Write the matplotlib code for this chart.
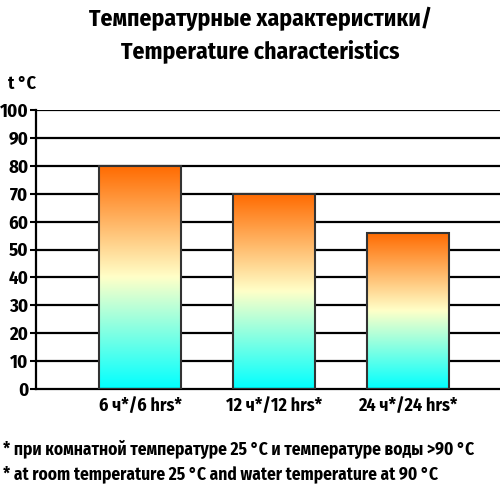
import numpy as np
import matplotlib.pyplot as plt
from matplotlib.colors import LinearSegmentedColormap

# --- данные ---
categories = ['6 ч*/6 hrs*', '12 ч*/12 hrs*', '24 ч*/24 hrs*']
temps = [80, 70, 56]
yticks = [0, 10, 20, 30, 40, 50, 60, 70, 80, 90, 100]

plt.rcParams['font.family'] = ['Fira Sans Condensed', 'Open Sans Condensed',
                               'Roboto Condensed', 'DejaVu Sans']
plt.rcParams['font.weight'] = 'bold'

cmap = LinearSegmentedColormap.from_list(
    'temp', [(0.0, '#00ffff'), (0.5, '#ffffc8'), (1.0, '#ff6a00')])

fig = plt.figure(figsize=(5, 5), dpi=100)
ax = fig.add_axes([0.072, 0.222, 0.928, 0.558])

x = np.arange(len(categories))
w = 0.612
grad = np.linspace(0, 1, 256).reshape(-1, 1)

for xi, v in zip(x, temps):
    ax.imshow(grad, cmap=cmap, origin='lower', aspect='auto',
              extent=(xi - w / 2, xi + w / 2, 0, v), zorder=2)
ax.bar(x, temps, width=w, fill=False, edgecolor='#333333', linewidth=1.5, zorder=3)

for t in yticks[1:]:
    ax.axhline(t, color='black', linewidth=1.6, zorder=1)

ax.set_xlim(-0.776, 2.687)
ax.set_ylim(0, 100)
ax.set_yticks(yticks)
ax.set_yticklabels([str(t) for t in yticks], fontsize=13.5, fontweight='bold')
ax.set_xticks(x)
ax.set_xticklabels(categories, fontsize=13, fontweight='bold')
ax.tick_params(axis='x', length=0, pad=6)
ax.tick_params(axis='y', length=4, width=1.5, pad=1.5)
for s in ['top', 'right']:
    ax.spines[s].set_visible(False)
ax.spines['left'].set_linewidth(1.6)
ax.spines['bottom'].set_linewidth(1.6)
ax.spines['left'].set_zorder(4)

fig.text(0.52, 0.962, 'Температурные характеристики/', ha='center', va='center',
         fontsize=17, fontweight='bold')
fig.text(0.52, 0.898, 'Temperature characteristics', ha='center', va='center',
         fontsize=17, fontweight='bold')
fig.text(0.016, 0.832, 't °C', ha='left', va='center', fontsize=13, fontweight='bold')

fig.text(0.006, 0.102, '* при комнатной температуре 25 °C и температуре воды >90 °C',
         ha='left', va='center', fontsize=12.5, fontweight='bold')
fig.text(0.006, 0.052, '* at room temperature 25 °C and water temperature at 90 °C',
         ha='left', va='center', fontsize=12.5, fontweight='bold')

fig.savefig('out.png', dpi=100)
